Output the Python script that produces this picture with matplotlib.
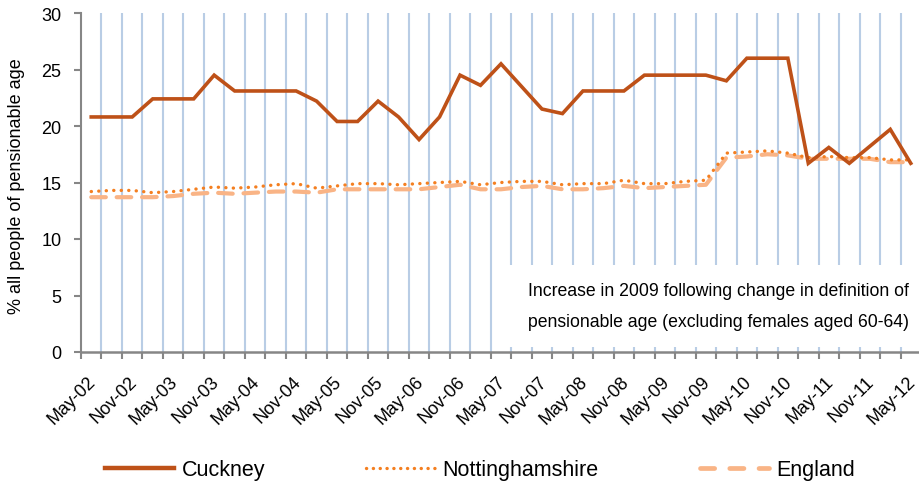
import matplotlib
matplotlib.use("Agg")
import matplotlib.pyplot as plt
import matplotlib.transforms as mtransforms
from matplotlib.patches import Rectangle
from matplotlib.lines import Line2D

plt.rcParams['font.family'] = ['Liberation Sans', 'DejaVu Sans']

categories = [
    "May-02", "Aug-02", "Nov-02", "Feb-03", "May-03", "Aug-03", "Nov-03", "Feb-04",
    "May-04", "Aug-04", "Nov-04", "Feb-05", "May-05", "Aug-05", "Nov-05", "Feb-06",
    "May-06", "Aug-06", "Nov-06", "Feb-07", "May-07", "Aug-07", "Nov-07", "Feb-08",
    "May-08", "Aug-08", "Nov-08", "Feb-09", "May-09", "Aug-09", "Nov-09", "Feb-10",
    "May-10", "Aug-10", "Nov-10", "Feb-11", "May-11", "Aug-11", "Nov-11", "Feb-12",
    "May-12",
]

cuckney = [
    20.8, 20.8, 20.8, 22.4, 22.4, 22.4, 24.5, 23.1, 23.1, 23.1,
    23.1, 22.2, 20.4, 20.4, 22.2, 20.8, 18.8, 20.8, 24.5, 23.6,
    25.5, 23.5, 21.5, 21.1, 23.1, 23.1, 23.1, 24.5, 24.5, 24.5,
    24.5, 24.0, 26.0, 26.0, 26.0, 16.7, 18.1, 16.7, 18.2, 19.7,
    16.7,
]

nottinghamshire = [
    14.2, 14.3, 14.3, 14.1, 14.2, 14.4, 14.6, 14.5, 14.6, 14.8,
    14.9, 14.5, 14.7, 14.9, 14.9, 14.8, 14.9, 15.0, 15.1, 14.8,
    15.0, 15.1, 15.1, 14.8, 14.9, 14.9, 15.2, 14.9, 14.9, 15.1,
    15.2, 17.6, 17.7, 17.8, 17.6, 17.2, 17.3, 17.2, 17.2, 17.0,
    17.0,
]

england = [
    13.7, 13.7, 13.7, 13.7, 13.8, 14.0, 14.1, 14.0, 14.1, 14.2,
    14.2, 14.1, 14.4, 14.4, 14.4, 14.4, 14.4, 14.6, 14.8, 14.4,
    14.4, 14.6, 14.7, 14.4, 14.4, 14.5, 14.7, 14.5, 14.6, 14.7,
    14.8, 17.2, 17.3, 17.5, 17.4, 17.1, 17.1, 17.1, 17.1, 16.8,
    16.8,
]

y_ticks = [0, 5, 10, 15, 20, 25, 30]
ylabel = "% all people of pensionable age"
note_lines = ["Increase in 2009 following change in definition of",
              "pensionable age (excluding females aged 60-64)"]

c_cuck = "#BE5118"
c_notts = "#F47F20"
c_eng = "#F9B486"
grid_c = "#B9CDE5"
axis_c = "#868686"

fig = plt.figure(figsize=(9.19, 4.89), dpi=100)
ax = fig.add_axes([81/919, 136/489, 840/919, 339/489])

n = len(categories)
x = list(range(n))

ax.set_xlim(-0.5, n - 0.5)
ax.set_ylim(0, 30)

# vertical gridlines at category boundaries
bounds = [i - 0.5 for i in range(n + 1)]
for b in bounds[1:-1]:
    ax.axvline(b, color=grid_c, lw=1.5, zorder=1)

# white annotation box
ax.add_patch(Rectangle((0.493, 0.0147), 0.51, 0.242, transform=ax.transAxes,
                       facecolor="white", edgecolor="none", zorder=2, clip_on=False))
ax.text(0.532, 0.180, note_lines[0], transform=ax.transAxes, fontsize=12.7,
        va="center", ha="left", zorder=3)
ax.text(0.532, 0.0914, note_lines[1], transform=ax.transAxes, fontsize=12.7,
        va="center", ha="left", zorder=3)

ax.plot(x, england, color=c_eng, lw=3.0, linestyle=(0, (3.5, 2.6)),
        dash_capstyle="round", zorder=4)
ax.plot(x, nottinghamshire, color=c_notts, lw=2.4, linestyle=(0, (0.05, 2.2)),
        dash_capstyle="round", zorder=5)
ax.plot(x, cuckney, color=c_cuck, lw=2.6, solid_joinstyle="miter", zorder=6)

# axes styling
for s in ["top", "right"]:
    ax.spines[s].set_visible(False)
ax.spines["left"].set_color(axis_c)
ax.spines["left"].set_linewidth(1.5)
ax.spines["bottom"].set_color(axis_c)
ax.spines["bottom"].set_linewidth(1.8)
ax.spines["left"].set_zorder(7)
ax.spines["bottom"].set_zorder(7)

ax.set_yticks(y_ticks)
ax.set_yticklabels([str(v) for v in y_ticks], fontsize=13)
ax.tick_params(axis="y", direction="out", length=5, width=1.5, color=axis_c, pad=9)

ax.set_xticks(bounds)
ax.set_xticklabels([])
ax.tick_params(axis="x", direction="out", length=5, width=1.5, color=axis_c)
ax.set_xticks(x[::2], minor=True)
labels = ax.set_xticklabels(categories[::2], minor=True, rotation=45, ha="right",
                            va="center", rotation_mode="anchor", fontsize=13)
ax.tick_params(axis="x", which="minor", length=0, pad=19)
offset = mtransforms.ScaledTranslation(2/100, 0, fig.dpi_scale_trans)
for lab in labels:
    lab.set_transform(lab.get_transform() + offset)

ax.set_ylabel(ylabel, fontsize=13)
ax.yaxis.set_label_coords(-0.0667, 0.493)

handles = [
    Line2D([], [], color=c_cuck, lw=3.2),
    Line2D([], [], color=c_notts, lw=2.4, linestyle=(0, (0.05, 2.0)), dash_capstyle="round"),
    Line2D([], [], color=c_eng, lw=3.4, linestyle=(0, (3.0, 3.2)), dash_capstyle="round"),
]
fig.legend(handles, ["Cuckney", "Nottinghamshire", "England"], loc="center",
           bbox_to_anchor=(480/919, 1 - 471/489), ncol=3, frameon=False,
           fontsize=15.5, handlelength=3.2, handletextpad=0.35, columnspacing=4.7)

fig.savefig("out.png", dpi=100)
